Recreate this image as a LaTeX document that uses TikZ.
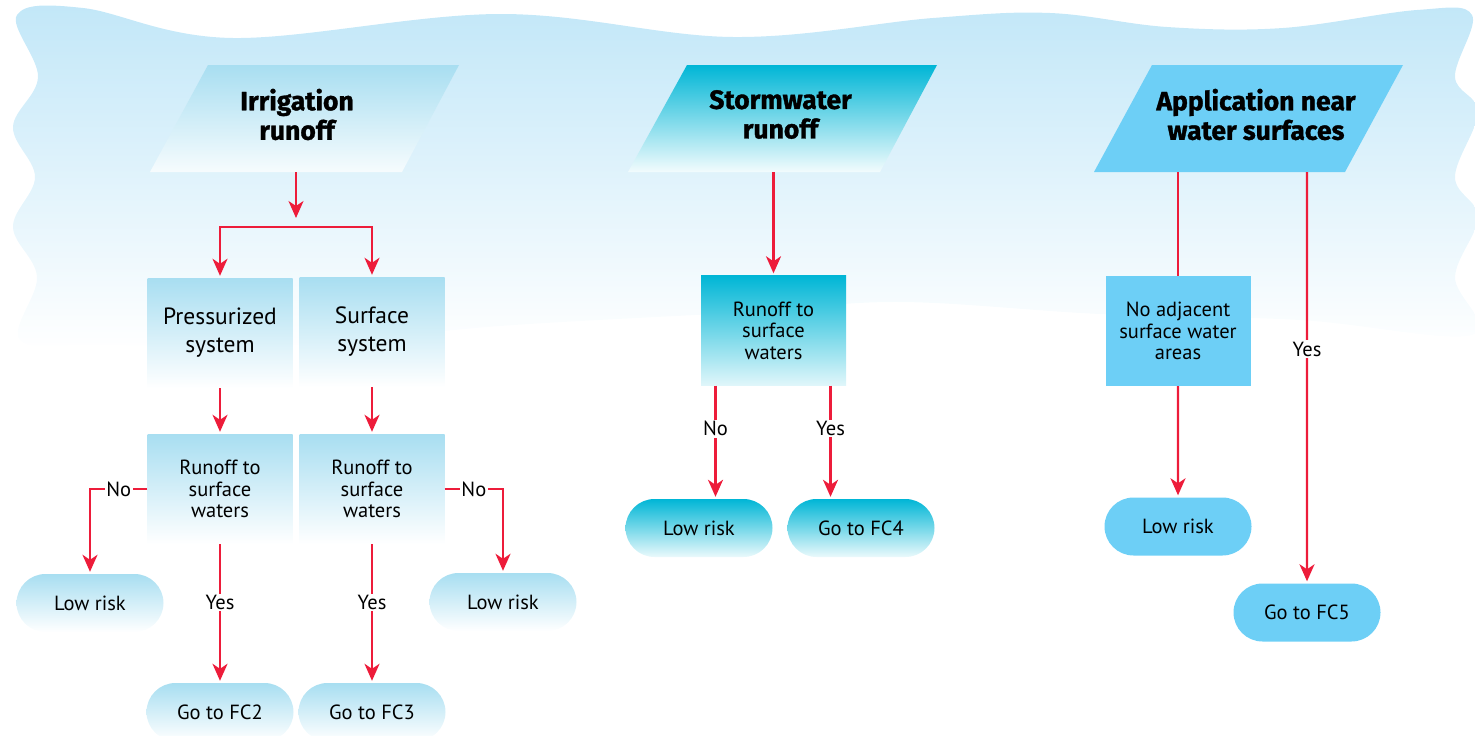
\documentclass[tikz,border=0pt]{standalone}
\usepackage{fontspec}
\setmainfont{PT Sans}
\newfontfamily\headfont{Fira Sans}[BoldFeatures={FakeBold=1.2}]
\usetikzlibrary{arrows.meta,shapes.misc}

\definecolor{wavecol}{HTML}{C2E7F8}
\definecolor{paleblue}{HTML}{A8DEF1}
\definecolor{deepcyan}{HTML}{00B6D6}
\definecolor{skyblue}{HTML}{6DCFF6}
\definecolor{flowred}{HTML}{ED1C3A}

\tikzset{
  flow/.style={draw=flowred, line width=2.2pt},
  arr/.style={flow, -{Stealth[length=17pt,width=15pt,inset=5pt]}, shorten >=2pt},
  tag/.style={fill=white, inner sep=1.5pt, font=\fontsize{20.5}{22}\selectfont},
  head/.style={minimum height=115pt, inner sep=0pt, align=center,
    font=\headfont\bfseries\fontsize{26.5}{29.5}\selectfont},
  box/.style={rectangle, minimum width=145pt, minimum height=110pt, inner sep=2pt, align=center},
  pill/.style={rounded rectangle, minimum width=151pt, minimum height=58pt, inner sep=2pt,
    font=\fontsize{20.5}{22}\selectfont},
  small/.style={font=\fontsize{20.5}{21.5}\selectfont},
  big/.style={font=\fontsize{23.5}{28}\selectfont}
}

\begin{document}
\begin{tikzpicture}[x=1pt, y=-1pt]
\useasboundingbox (0,0) rectangle (1475,736);

% wavy backdrop
\shade[top color=wavecol, bottom color=white] plot[smooth cycle, tension=0.6] coordinates {
  (17,15) (83,8) (233,38) (500,14) (733,37) (933,18) (1050,13) (1167,27) (1283,28)
  (1417,10) (1472,15) (1455,77) (1478,112) (1455,177) (1478,217) (1455,277) (1472,335)
  (1300,320) (1100,314) (900,302) (750,312) (500,326) (300,345) (100,345) (20,340)
  (37,277) (13,227) (35,177) (13,127) (38,77)};

% irrigation runoff
\shade[top color=paleblue, bottom color=paleblue!10] (208,65) -- (459,65) -- (402,172) -- (150,172) -- cycle;
\node[head] (irr) at (297,114.5) {Irrigation\\runoff};
\coordinate (split) at (296,227);
\node[box, big, top color=paleblue, bottom color=white] (press) at (220,333) {Pressurized\\system};
\node[box, big, top color=paleblue, bottom color=white] (surf) at (372,332) {Surface\\system};
\node[box, small, top color=paleblue, bottom color=white] (runA) at (220,489) {Runoff to\\surface\\waters};
\node[box, small, top color=paleblue, bottom color=white] (runB) at (372,489) {Runoff to\\surface\\waters};
\node[pill, top color=paleblue, bottom color=white] (lowA) at (90,603) {Low risk};
\node[pill, top color=paleblue, bottom color=white] (lowB) at (503,602) {Low risk};
\node[pill, top color=paleblue, bottom color=white] (fc2) at (220,712) {Go to FC2};
\node[pill, top color=paleblue, bottom color=white] (fc3) at (372,712) {Go to FC3};

\draw[arr] (irr.south -| split) -- ([yshift=7pt]split);
\draw[arr] (split) -| (press);
\draw[arr] (split) -| (surf);
\draw[arr] (press) -- (runA);
\draw[arr] (surf) -- (runB);
\draw[arr] (runA.west) -| node[tag, pos=0.25] {No} (lowA);
\draw[arr] (runB.east) -| node[tag, pos=0.25] {No} (lowB);
\draw[arr] (runA) -- node[tag, pos=0.42] {Yes} (fc2);
\draw[arr] (runB) -- node[tag, pos=0.42] {Yes} (fc3);

% stormwater runoff
\shade[top color=deepcyan, bottom color=deepcyan!5] (687,65) -- (937,65) -- (880,172) -- (628,172) -- cycle;
\node[head] (storm) at (780.5,114.5) {Stormwater\\runoff};
\node[box, small, top color=deepcyan, bottom color=deepcyan!12] (runC) at (773.5,330.5) {Runoff to\\surface\\waters};
\node[pill, top color=deepcyan, bottom color=deepcyan!8] (lowC) at (699,528) {Low risk};
\node[pill, top color=deepcyan, bottom color=deepcyan!8] (fc4) at (861,528) {Go to FC4};

\draw[arr] (storm.south -| runC) -- (runC);
\draw[arr] ([xshift=-58pt]runC.south) -- node[tag, pos=0.38] {No} ([xshift=-58pt]runC.south |- lowC.north);
\draw[arr] ([xshift=57pt]runC.south) -- node[tag, pos=0.38] {Yes} ([xshift=57pt]runC.south |- fc4.north);

% application near water
\fill[skyblue] (1152,65) -- (1403,65) -- (1345,172) -- (1094,172) -- cycle;
\node[head] (app) at (1256,114.5) {Application near\\water surfaces};
\node[box, small, fill=skyblue] (noadj) at (1178,331) {No adjacent\\surface water\\areas};
\node[pill, fill=skyblue] (lowD) at (1178,526.5) {Low risk};
\node[pill, fill=skyblue] (fc5) at (1307,612.5) {Go to FC5};

\draw[flow] (app.south -| noadj) -- (noadj);
\draw[arr] (noadj) -- (lowD);
\draw[arr] (app.south -| fc5) -- node[tag, pos=0.43] {Yes} (fc5);
\end{tikzpicture}
\end{document}
